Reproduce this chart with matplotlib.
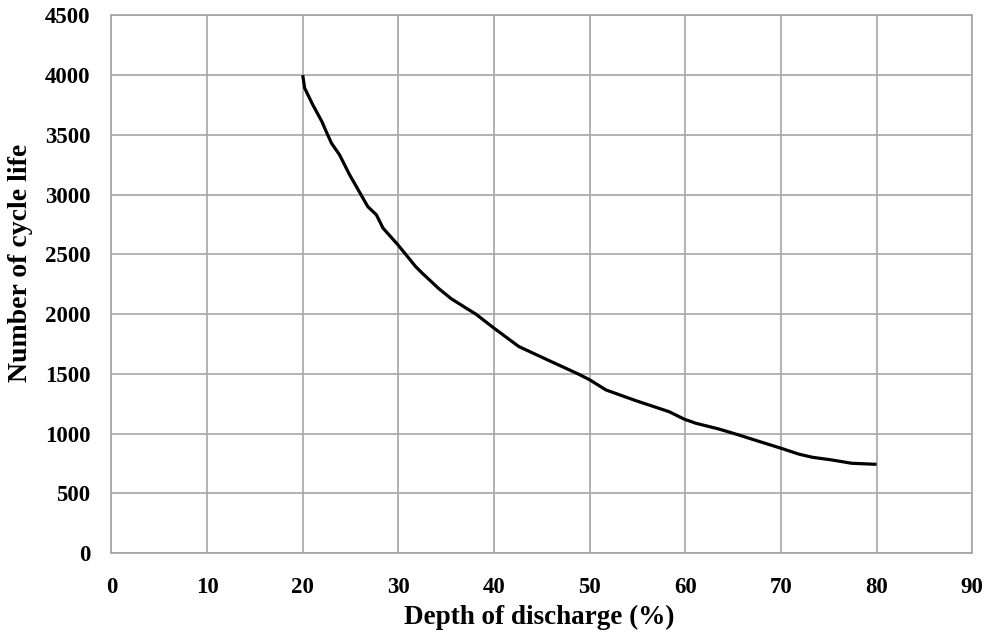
import matplotlib
matplotlib.use("Agg")
import matplotlib.pyplot as plt

# Valeurs (profondeur de décharge %, nombre de cycles)
dod = [20.0, 20.2, 21.05, 22.0, 22.45, 23.0, 23.85, 24.9, 26.1, 26.8, 27.7, 28.4,
       29.95, 31.8, 32.5, 34.2, 35.5, 37.1, 38.1, 40.0, 42.6, 45.5, 48.9, 50.0, 51.7,
       54.8, 58.3, 59.9, 61.1, 63.5, 65.6, 67.0, 70.0, 71.9, 73.3, 75.3, 77.4, 79.7, 80.0]
cycles = [4000, 3892, 3752, 3612, 3529, 3431, 3333, 3166, 2998, 2900, 2831, 2719,
          2580, 2398, 2342, 2215, 2130, 2049, 2000, 1882, 1728, 1620, 1495, 1450, 1365,
          1276, 1183, 1120, 1086, 1038, 988, 952, 877, 827, 801, 779, 751, 743, 743]

x_ticks = list(range(0, 91, 10))
y_ticks = list(range(0, 4501, 500))

plt.rcParams['font.family'] = ['Liberation Serif', 'DejaVu Serif']
plt.rcParams['font.weight'] = 'bold'

fig = plt.figure(figsize=(9.89, 6.43), dpi=100)
ax = fig.add_axes([0.1127, 0.14, 0.8703, 0.836])

ax.plot(dod, cycles, color='black', linewidth=2.3, solid_capstyle='butt',
        solid_joinstyle='round')

ax.set_xlim(0, 90)
ax.set_ylim(0, 4500)
ax.set_xticks(x_ticks)
ax.set_yticks(y_ticks)
ax.grid(True, color='#a6a6a6', linewidth=1.2)
ax.set_axisbelow(True)
for s in ax.spines.values():
    s.set_color('#a6a6a6')
    s.set_linewidth(1.2)
ax.tick_params(length=0, labelsize=16.5)
ax.tick_params(axis='x', pad=17)
ax.tick_params(axis='y', pad=15)
for lab in ax.get_xticklabels() + ax.get_yticklabels():
    lab.set_fontweight('bold')

ax.set_xlabel('Depth of discharge (%)', fontsize=19.5, fontweight='bold')
ax.set_ylabel('Number of cycle life', fontsize=20, fontweight='bold')
ax.xaxis.set_label_coords(0.497, -0.096)
ax.yaxis.set_label_coords(-0.091, 0.54)

fig.savefig('out.png', dpi=100)
